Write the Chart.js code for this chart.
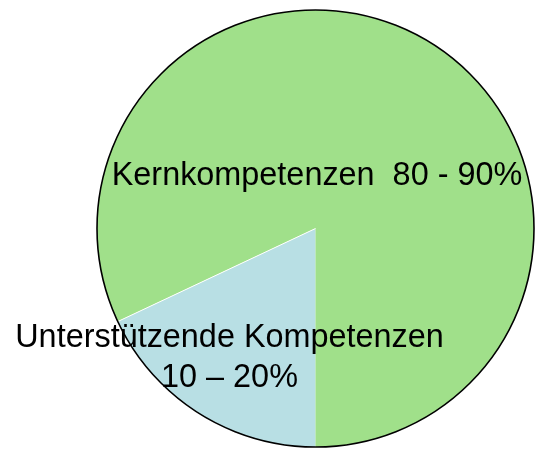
<!DOCTYPE html>
<html>
<head>
<meta charset="utf-8">
<script src="https://cdn.jsdelivr.net/npm/chart.js@4"></script>
<style>
  html, body { margin: 0; padding: 0; background: #fff; }
  #wrap { width: 536px; height: 449px; position: relative; }
</style>
</head>
<body>
<div id="wrap"><canvas id="myChart"></canvas></div>
<script>
"use strict";

// slice data, starting at 6 o'clock and going clockwise
const sliceLabels = ["Unterstützende Kompetenzen", "Kernkompetenzen"];
const sliceValues = [18, 82];
const sliceColors = ["#b8dfe4", "#a0e08a"];

// text written on the slices
const coreText = ["Kernkompetenzen  80 - 90%"];
const supportText = ["Unterstützende Kompetenzen", "10 – 20%"];

const ctx = document.getElementById("myChart");

const pieText = {
  id: "pieText",
  afterDatasetsDraw(chart) {
    const arc = chart.getDatasetMeta(0).data[0];
    const c = chart.ctx;
    const cx = arc.x;
    const cy = arc.y;
    const r = arc.outerRadius;

    c.save();
    // thin white seam on the slanted edge between the slices
    c.beginPath();
    c.moveTo(cx, cy);
    c.lineTo(cx + r * Math.cos(arc.endAngle), cy + r * Math.sin(arc.endAngle));
    c.lineWidth = 1;
    c.strokeStyle = "#fff";
    c.stroke();

    // black outline around the pie only
    c.beginPath();
    c.arc(cx, cy, r, 0, Math.PI * 2);
    c.lineWidth = 1.6;
    c.strokeStyle = "#000";
    c.stroke();

    c.font = '32.4px "Liberation Sans", Arial, sans-serif';
    c.fillStyle = "#000";
    c.textAlign = "center";
    c.textBaseline = "alphabetic";

    coreText.forEach((line, i) => {
      c.fillText(line, cx + 1.5, cy - 43.5 + i * 40);
    });
    supportText.forEach((line, i) => {
      c.fillText(line, cx - 86, cy + 118.5 + i * 40);
    });
    c.restore();
  },
};

new Chart(ctx, {
  type: "pie",
  data: {
    labels: sliceLabels,
    datasets: [
      {
        data: sliceValues,
        backgroundColor: sliceColors,
        borderWidth: 0,
      },
    ],
  },
  options: {
    responsive: true,
    maintainAspectRatio: false,
    animation: false,
    rotation: 180,
    layout: {
      padding: { left: 97, right: 2, top: 10, bottom: 2 },
    },
    plugins: {
      legend: { display: false },
      tooltip: { enabled: false },
    },
  },
  plugins: [pieText],
});
</script>
</body>
</html>
